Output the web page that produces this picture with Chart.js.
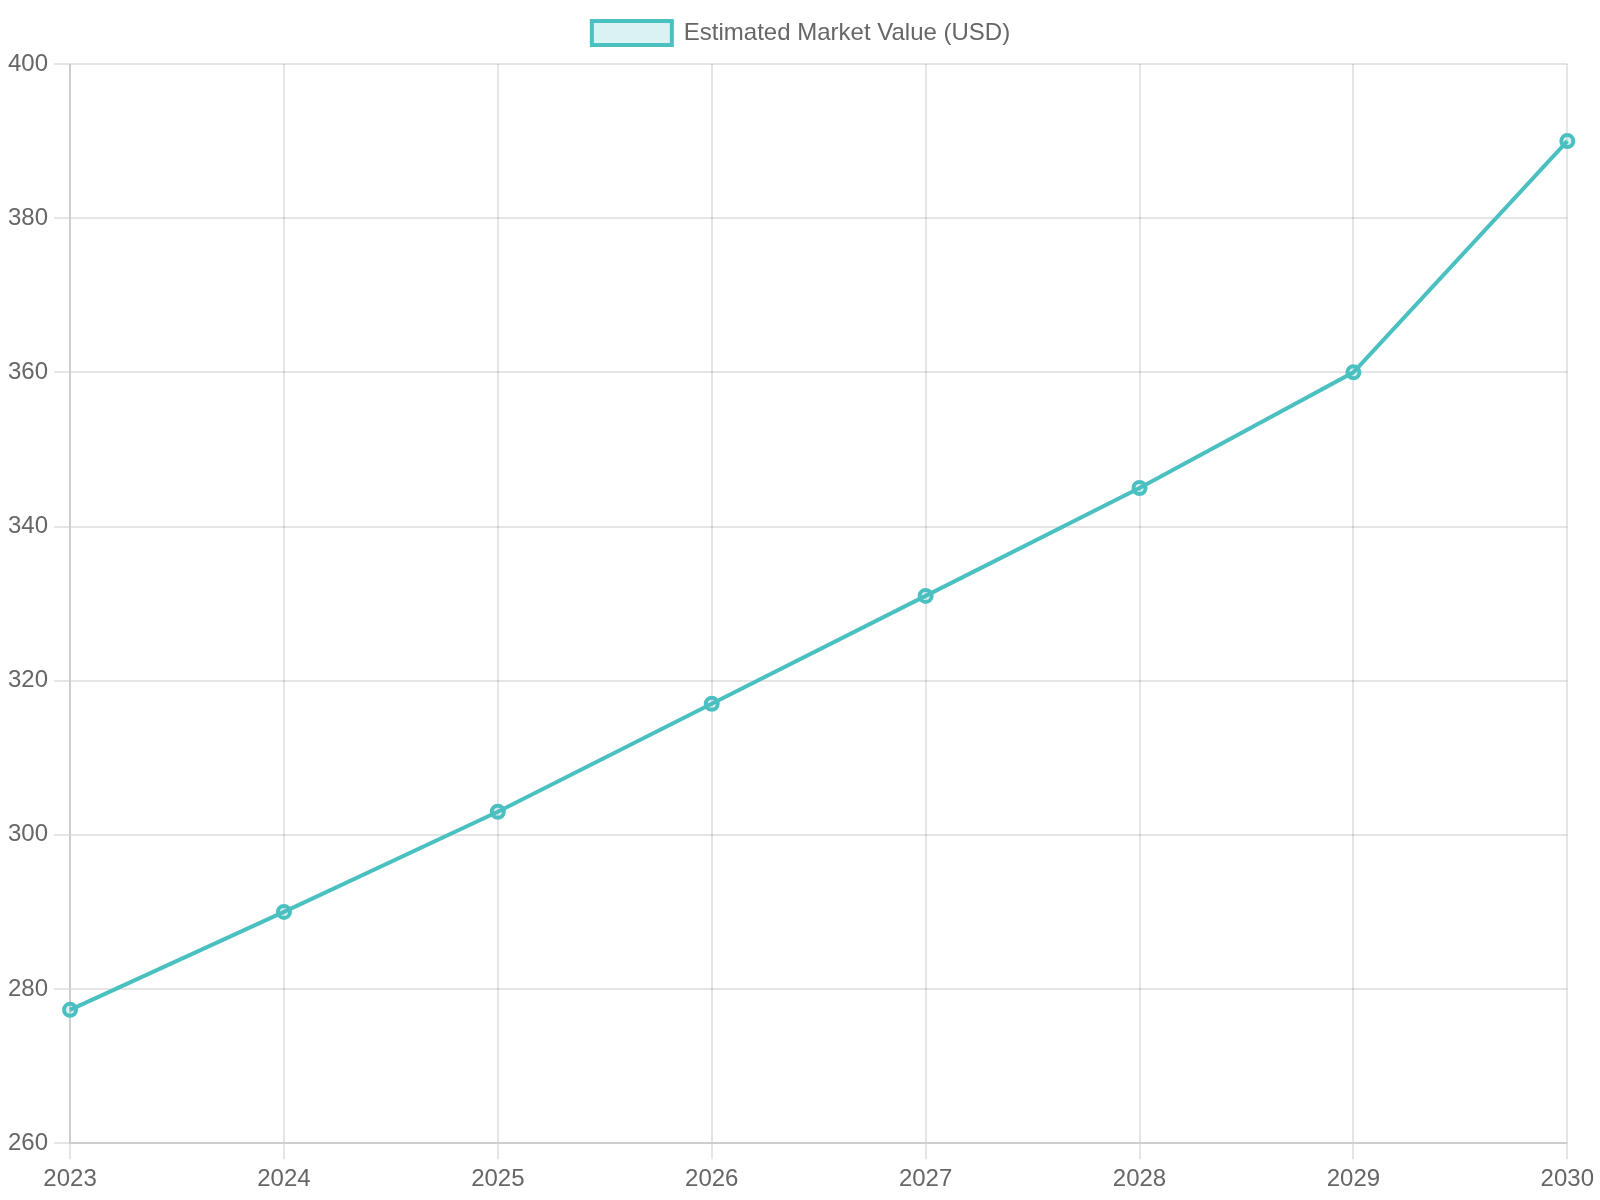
<!DOCTYPE html>
<html>
<head>
<meta charset="utf-8">
<title>Estimated Market Value</title>
<script src="https://cdn.jsdelivr.net/npm/chart.js@4/dist/chart.umd.min.js"></script>
<style>
  html, body { margin: 0; padding: 0; background: #fff; }
  #wrap { position: relative; width: 1600px; height: 1200px; }
</style>
</head>
<body>
<div id="wrap"><canvas id="chart-market"></canvas></div>
<script>
"use strict";

const years = ["2023", "2024", "2025", "2026", "2027", "2028", "2029", "2030"];
const marketValues = [277.3, 290, 303, 317, 331, 345, 360, 390];
const seriesLabel = "Estimated Market Value (USD)";

(() => {
  const lineColor = "rgb(75, 192, 192)";
  const fillColor = "rgba(75, 192, 192, 0.2)";
  const textColor = "#666";
  const gridColor = "rgba(0, 0, 0, 0.1)";

  Chart.defaults.font.family = "'Helvetica Neue', Helvetica, Arial, sans-serif";
  Chart.defaults.font.size = 24;
  Chart.defaults.color = textColor;

  // Extra space below the legend, like the old v2 legend margin
  const legendMargin = {
    id: "legendMargin",
    beforeInit(chart) {
      const fit = chart.legend.fit;
      chart.legend.fit = function () {
        fit.bind(chart.legend)();
        this.height += 9;
      };
    },
  };

  const ctx = document.getElementById("chart-market").getContext("2d");

  new Chart(ctx, {
    type: "line",
    data: {
      labels: years,
      datasets: [
        {
          label: seriesLabel,
          data: marketValues,
          borderColor: lineColor,
          backgroundColor: fillColor,
          borderWidth: 4,
          pointRadius: 6,
          pointBorderWidth: 4,
          pointBackgroundColor: fillColor,
          tension: 0,
          fill: false,
        },
      ],
    },
    plugins: [legendMargin],
    options: {
      responsive: true,
      maintainAspectRatio: false,
      animation: false,
      layout: {
        padding: { top: 1, left: 2 },
      },
      plugins: {
        legend: {
          labels: {
            boxWidth: 80,
            boxHeight: 24,
            padding: 20,
          },
        },
        tooltip: { enabled: false },
      },
      scales: {
        x: {
          grid: {
            color: gridColor,
            lineWidth: 2,
            tickLength: 16,
          },
          border: { color: gridColor, width: 2 },
          ticks: { padding: 6, maxRotation: 0 },
        },
        y: {
          min: 260,
          max: 400,
          grid: {
            color: gridColor,
            lineWidth: 2,
            tickLength: 16,
          },
          border: { color: gridColor, width: 2 },
          ticks: { stepSize: 20, padding: 6 },
        },
      },
    },
  });
})();
</script>
</body>
</html>
